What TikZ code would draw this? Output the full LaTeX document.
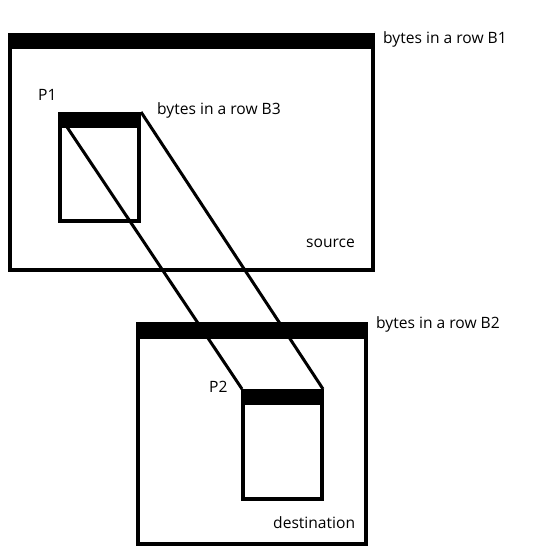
\documentclass[tikz,border=0pt]{standalone}
\usepackage{fontspec}
\setmainfont{Open Sans}
\begin{document}
\begin{tikzpicture}[x=1pt,y=-1pt,
  frame/.style={draw=black,line width=4pt,rectangle,inner sep=0pt},
  bar/.style={fill=black},
  link/.style={draw=black,line width=3pt},
  lbl/.style={anchor=base west,inner sep=0pt,font=\fontsize{15.6}{18}\selectfont,text=black}]
\useasboundingbox[fill=white] (0,0) rectangle (555,559);
% source
\node[frame,minimum width=363pt,minimum height=235pt] (src) at (191.5,152.5) {};
\fill[bar] (8,33) rectangle (375,49);
% B3 box
\node[frame,minimum width=79pt,minimum height=107pt] (b3) at (99.5,167.5) {};
\fill[bar] (58,112) rectangle (141,128);
% destination
\node[frame,line width=4.5pt,minimum width=228pt,minimum height=220pt] (dst) at (252,434) {};
\fill[bar] (136,322) rectangle (368,339);
% P2 box
\node[frame,minimum width=79pt,minimum height=108pt] (p2) at (282.5,445) {};
\fill[bar] (241,389) rectangle (324,405);
% connector ends
\coordinate (a1) at (67,127);
\coordinate (a2) at (141,112);
\coordinate (e1) at (242,389);
\coordinate (e2) at (323,389);
\draw[link] (a1) -- (e1);
\draw[link] (a2) -- (e2);
% labels
\node[lbl] (lb1) at (383,44) {bytes in a row B1};
\node[lbl] (lp1) at (38,101) {P1};
\node[lbl] (lb3) at (157,114) {bytes in a row B3};
\node[lbl] (lsrc) at (306,247) {source};
\node[lbl] (lb2) at (376,328) {bytes in a row B2};
\node[lbl] (lp2) at (209,392) {P2};
\node[lbl] (ldst) at (273,528) {destination};
\end{tikzpicture}
\end{document}
